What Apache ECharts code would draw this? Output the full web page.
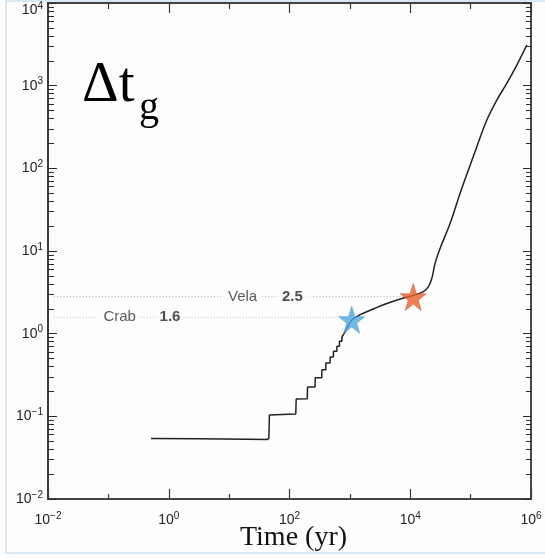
<!DOCTYPE html>
<html><head><meta charset="utf-8">
<script src="https://cdn.jsdelivr.net/npm/echarts@6/dist/echarts.min.js"></script>
<style>html,body{margin:0;padding:0;background:#fdfdfd}#c{width:545px;height:559px}</style>
</head><body><div id="c"></div><script>
// staircase part of the curve (time in yr, Δt_g)
const stepTimes  = [0.51, 3, 20, 42, 45.5, 46.5, 48, 127, 129, 197, 199, 265, 267, 342, 344, 399, 401, 470, 472, 533, 535, 608, 610, 671, 673, 736, 738, 800, 892, 1000, 1072];
const stepValues = [0.054, 0.0535, 0.053, 0.0525, 0.054, 0.104, 0.107, 0.107, 0.162, 0.163, 0.227, 0.227, 0.292, 0.292, 0.367, 0.367, 0.443, 0.443, 0.523, 0.523, 0.611, 0.611, 0.703, 0.703, 0.807, 0.807, 0.912, 1.0, 1.15, 1.36, 1.47];
// smooth tail of the curve
const tailTimes  = [1072, 1483, 2500, 3597, 7710, 11200, 16500, 20000, 22800, 25800, 31300, 45800, 67000, 92000, 126800, 185500, 271500, 397000, 582000, 851000];
const tailValues = [1.47, 1.70, 2.0, 2.24, 2.70, 2.9, 3.22, 3.70, 4.68, 7.11, 10.8, 21.7, 50, 95.7, 183, 384, 670, 1066, 1774, 3090];
// pulsars
const pulsarNames  = ['Crab', 'Vela'];
const pulsarAges   = [1072, 11200];
const pulsarDeltaT = [1.47, 2.78];
const pulsarColors = ['#52a9de', '#e8612c'];
// dotted reference levels
const refLevels = [1.58, 2.8];
const refLabels = ['1.6', '2.5'];
const refStart = 0.0125;
const nameAnchorTimes  = [0.14, 16.7];
const valueAnchorTimes = [1.05, 118];
// ticks
const xMajorTicks = [1e-2, 1e0, 1e2, 1e4, 1e6];
const xMinorTicks = [1e-1, 1e1, 1e3, 1e5];
const yMajorTicks = [1e-2, 1e-1, 1e0, 1e1, 1e2, 1e3, 1e4];
const yLabelTicks = [1e-2, 1e-1, 1e0, 1e1, 1e2, 1e3];
const yTopLabelTicks = [1e4];
const yMinorTicks = [];
for (let d = -2; d <= 3; d++) for (let m = 2; m <= 9; m++) yMinorTicks.push(+(m * Math.pow(10, d)).toPrecision(3));

const AX = '#3a3a3a';
const sup = function (v) {
  const e = Math.round(Math.log10(v));
  const t = e < 0 ? '\u2212' + (-e) : '' + e;
  return '{b|10}{s|' + t + '}';
};
const richLab = {
  b: {fontFamily: 'Liberation Sans', fontSize: 14, color: '#222', verticalAlign: 'bottom', lineHeight: 14},
  s: {fontFamily: 'Liberation Sans', fontSize: 10, color: '#222', verticalAlign: 'bottom', lineHeight: 10, padding: [0, 0, 6, 0]}
};
function xAx(pos, ticks, len, labels) {
  return {
    type: 'log', logBase: 10, min: 1e-2, max: 1e6, position: pos,
    axisLine: {show: true, lineStyle: {color: AX, width: 1.5}},
    axisTick: {show: true, inside: true, length: len, customValues: ticks, lineStyle: {color: AX, width: 1.2}},
    axisLabel: labels ? {show: true, customValues: ticks, formatter: sup, rich: richLab, margin: 14} : {show: false},
    splitLine: {show: false}, minorTick: {show: false}
  };
}
function yAx(pos, ticks, len, labelTicks, vAlign) {
  return {
    type: 'log', logBase: 10, min: 1e-2, max: 1e4, position: pos,
    axisLine: {show: true, lineStyle: {color: AX, width: 1.5}},
    axisTick: {show: len > 0, inside: true, length: len, customValues: ticks, lineStyle: {color: '#2a2a2a', width: 1}},
    axisLabel: labelTicks ? {show: true, customValues: labelTicks, formatter: sup, rich: richLab, margin: 5, verticalAlign: vAlign || 'middle'} : {show: false},
    splitLine: {show: false}, minorTick: {show: false}
  };
}

const starPath = 'path://M50,0 L61.8,35.1 L98.1,35.1 L68.8,56.8 L79.4,91.5 L50,70 L20.6,91.5 L31.2,56.8 L1.9,35.1 L38.2,35.1 Z';

const zip = (a, b) => a.map((v, i) => [v, b[i]]);

const series = [];
refLevels.forEach((lv, i) => {
  series.push({
    type: 'line', name: 'ref' + i, data: [[refStart, lv], [pulsarAges[i], lv]],
    showSymbol: false, silent: true, z: 1,
    lineStyle: {color: '#c4c4c4', width: 1.2, type: [1.2, 2]}
  });
});
const labData = [];
pulsarNames.forEach((n, i) => {
  labData.push({value: [nameAnchorTimes[i], refLevels[i]], label: {formatter: n, fontWeight: 'normal', color: '#333', padding: i === 0 ? [1, 3, 1, 8] : [1, 5, 1, 5]}});
  labData.push({value: [valueAnchorTimes[i], refLevels[i]], label: {formatter: refLabels[i], fontWeight: 'bold', color: '#222', padding: i === 0 ? [1, 3, 1, 3] : [1, 8, 1, 5]}});
});
series.push({
  type: 'scatter', data: labData, symbol: 'circle', symbolSize: 1, z: 2, silent: true,
  itemStyle: {color: 'rgba(0,0,0,0)'},
  label: {show: true, position: 'inside', fontFamily: 'Liberation Sans', fontSize: 15, backgroundColor: '#fdfdfd'}
});
series.push({
  type: 'line', data: zip(stepTimes, stepValues), showSymbol: false, z: 3, silent: true,
  lineStyle: {color: '#222', width: 1.5}
});
series.push({
  type: 'line', data: zip(tailTimes, tailValues), showSymbol: false, smooth: 0.35, z: 3, silent: true,
  lineStyle: {color: '#222', width: 1.5}
});
series.push({
  type: 'scatter', z: 5, silent: true, symbol: starPath, symbolSize: [26, 27],
  data: pulsarAges.map((a, i) => ({value: [a, pulsarDeltaT[i]], itemStyle: {color: pulsarColors[i], borderColor: i === 0 ? '#3b8ec4' : '#c94f1e', borderWidth: 0.6}}))
});

const chart = echarts.init(document.getElementById('c'), null, {renderer: 'canvas'});
chart.setOption({
  backgroundColor: '#fdfdfd',
  animation: false,
  grid: {left: 48, right: 14, top: 3, bottom: 60, containLabel: false, outerBoundsMode: 'none'},
  xAxis: [
    Object.assign(xAx('bottom', xMajorTicks, 10, true), {name: 'Time (yr)', nameLocation: 'middle', nameGap: 25, nameMoveOverlap: false,
      nameTextStyle: {fontFamily: 'Liberation Serif', fontSize: 28, color: '#111', padding: [0, 0, 0, 8]}}),
    xAx('bottom', xMinorTicks, 5, false),
    xAx('top', xMajorTicks, 10, false),
    xAx('top', xMinorTicks, 6, false)
  ],
  yAxis: [
    yAx('left', yMajorTicks, 9, yLabelTicks),
    yAx('left', yMinorTicks, 6, null),
    yAx('right', yMajorTicks, 8, null),
    yAx('right', yMinorTicks, 5, null),
    yAx('left', yTopLabelTicks, 0, yTopLabelTicks, 'top')
  ],
  graphic: [
    {type: 'rect', shape: {x: 6, y: 1, width: 560, height: 552}, style: {fill: 'none', stroke: '#cfe0ee', lineWidth: 1.5}, silent: true},
    {type: 'text', left: 82, top: 58, style: {text: '\u0394t', fontFamily: 'Liberation Serif', fontSize: 57, fill: '#000'}},
    {type: 'text', left: 139, top: 88, style: {text: 'g', fontFamily: 'Liberation Serif', fontSize: 40, fill: '#000'}}
  ],
  series: series
});
</script></body></html>
